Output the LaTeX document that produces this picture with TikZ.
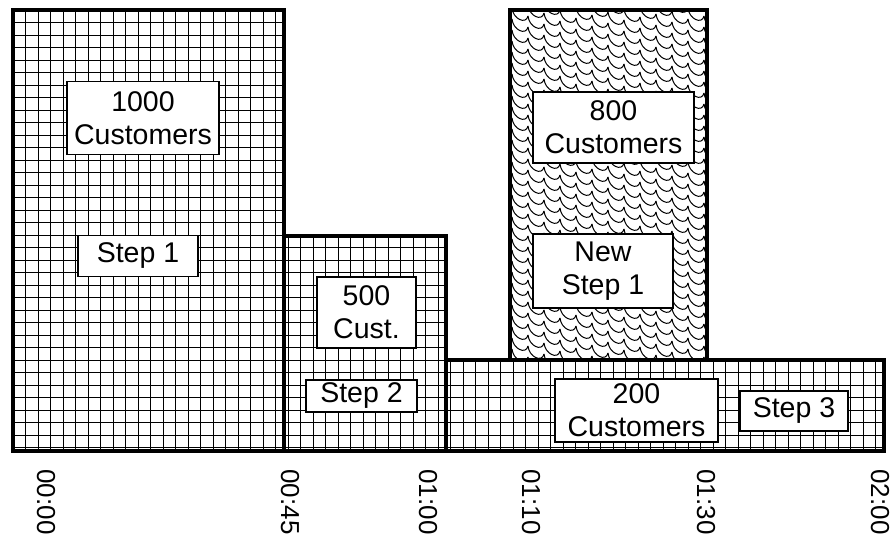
\documentclass[tikz,border=0pt]{standalone}
\usepackage{fontspec}
\setmainfont{Liberation Sans}
\begin{document}
\begin{tikzpicture}[x=1pt,y=-1pt,
  bar/.style={draw=black,line width=4.5pt},
  lbl/.style={draw=black,fill=white,line width=1.4pt,align=center,font=\fontsize{28.5}{33}\selectfont,inner sep=0pt},
  tick/.style={rotate=-90,font=\fontsize{26}{30}\selectfont,inner sep=0pt},
  gridline/.style={line width=0.9pt},
  scaleline/.style={line width=1pt}]
\useasboundingbox (0,0) rectangle (895,538);
\fill[white] (0,0) rectangle (895,538);
% grid pattern
\begin{scope}
\clip (13,10) -- (284,10) -- (284,236) -- (446,236) -- (446,360) -- (884,360) -- (884,451) -- (13,451) -- cycle;
\foreach \x in {0,...,70} \draw[gridline] (13+12.5*\x,0) -- (13+12.5*\x,460);
\foreach \y in {0,...,36} \draw[gridline] (0,10+12.5*\y) -- (900,10+12.5*\y);
\end{scope}
% scale pattern
\begin{scope}
\clip (510,10) rectangle (707,360);
\foreach \i in {0,...,14} {
  \foreach \j in {-14,...,36} {
    \pgfmathsetmacro\X{496+16*\i}
    \pgfmathsetmacro\Y{11*\j+8*\i}
    \draw[scaleline] (\X,\Y) .. controls (\X+1,\Y+11) and (\X+14,\Y+17) .. (\X+16,\Y+8);
  }
}
\end{scope}
% bar outlines
\draw[bar] (13,10) rectangle (284,451);
\draw[bar] (284,236) rectangle (446,451);
\draw[bar] (446,360) rectangle (884,451);
\draw[bar] (510,10) rectangle (707,360);
% labels
\node[lbl,minimum width=152pt,minimum height=73pt] (c1000) at (143,118) {1000\\Customers};
\node[lbl,minimum width=120pt,minimum height=41pt] (s1) at (138,256) {Step 1};
\node[lbl,minimum width=99pt,minimum height=71pt] (c500) at (366.5,312.5) {500\\Cust.};
\node[lbl,minimum width=111pt,minimum height=32pt] (s2) at (361.5,396) {Step 2};
\node[lbl,minimum width=161pt,minimum height=71pt] (c800) at (613.5,127.5) {800\\Customers};
\node[lbl,minimum width=140pt,minimum height=74pt] (ns1) at (603,271) {New\\Step 1};
\node[lbl,minimum width=163pt,minimum height=63pt] (c200) at (636.5,410.5) {200\\Customers};
\node[lbl,minimum width=108pt,minimum height=40pt] (s3) at (794,411) {Step 3};
% time ticks
\node[tick] (t0) at (46,502) {00:00};
\node[tick] (t45) at (290,502) {00:45};
\node[tick] (t60) at (428,502) {01:00};
\node[tick] (t70) at (531,502) {01:10};
\node[tick] (t90) at (706,502) {01:30};
\node[tick] (t120) at (880,502) {02:00};
\end{tikzpicture}
\end{document}
